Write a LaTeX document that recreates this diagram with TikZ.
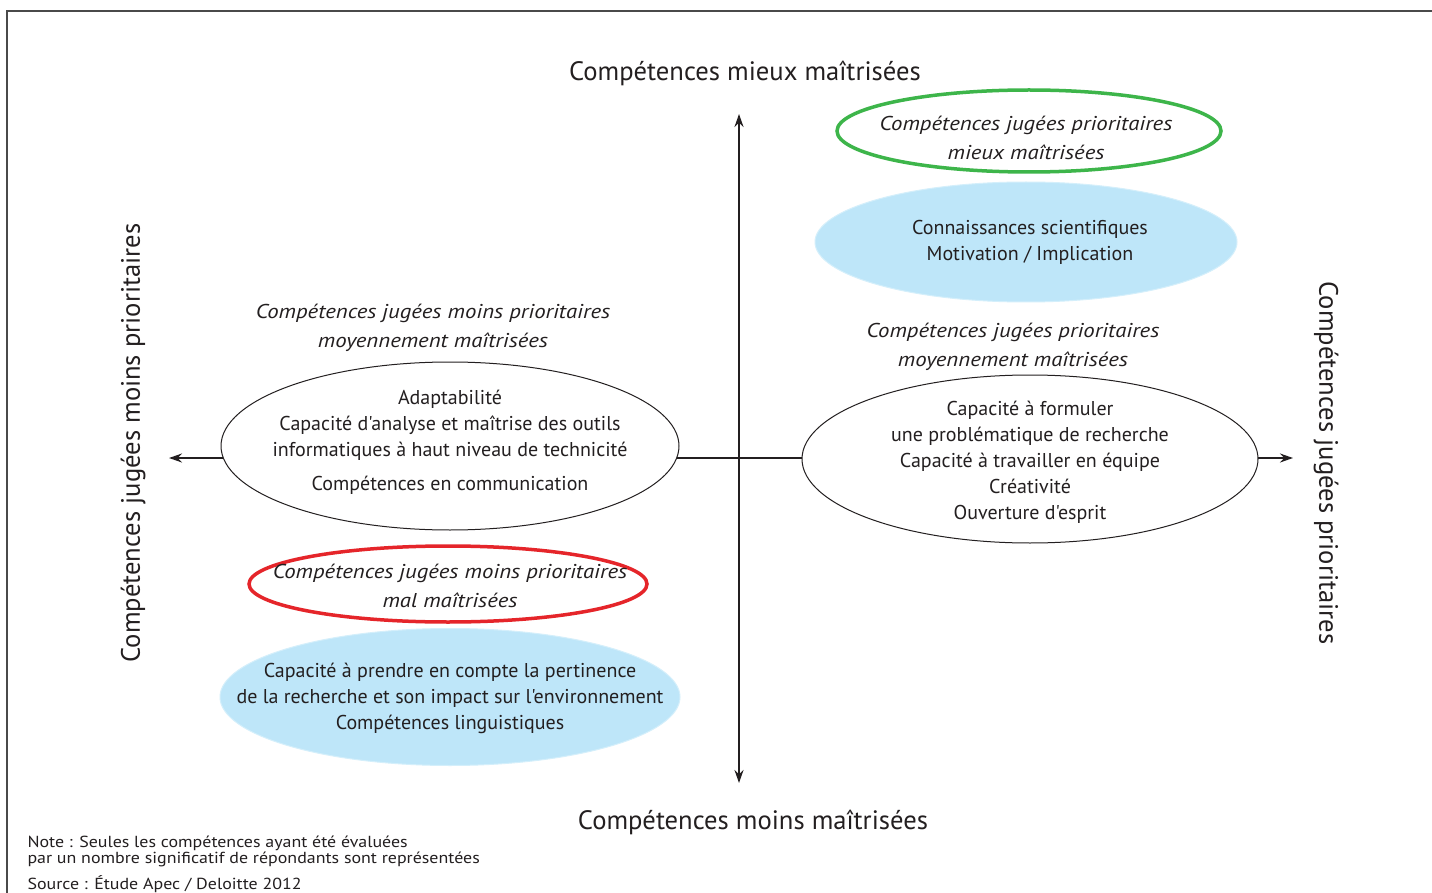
\documentclass[tikz,border=0pt]{standalone}
\usepackage{fontspec}
\setmainfont{PT Sans}[Ligatures=TeXOff, ItalicFeatures={FakeStretch=1.14}]
\newfontfamily\notefont{PT Sans}[Ligatures=TeXOff, FakeStretch=1.12]
\usetikzlibrary{arrows.meta,shapes.geometric}
\definecolor{skyfill}{HTML}{BEE6F9}
\definecolor{skyedge}{HTML}{D4EFFB}
\definecolor{ringgreen}{HTML}{3DB54A}
\definecolor{ringred}{HTML}{E5252A}
\definecolor{framegray}{HTML}{4A4A4A}
\definecolor{ink}{HTML}{231F20}
\tikzset{
  body/.style={font=\fontsize{20}{26}\selectfont, text=ink, align=center},
  ital/.style={font=\fontsize{20}{29}\selectfont\itshape, text=ink, align=center},
  title/.style={font=\fontsize{26.6}{30}\selectfont, text=ink},
  oval/.style={ellipse, inner sep=0pt},
  whiteoval/.style={oval, draw=ink, line width=1pt, fill=white},
  blueoval/.style={oval, draw=skyedge, line width=1pt, fill=skyfill},
  greenring/.style={oval, draw=ringgreen, line width=3.5pt, fill=white},
  redring/.style={oval, draw=ringred, line width=3.5pt, fill=white},
  axis/.style={draw=ink, line width=2pt, -{Stealth[length=13pt,width=9pt]}},
  note/.style={font=\notefont\fontsize{16}{16}\selectfont, text=ink, align=left, anchor=west},
}
\begin{document}
\begin{tikzpicture}[x=1pt,y=-1pt]
\useasboundingbox (0,0) rectangle (1432,893);
\fill[white] (0,0) rectangle (1432,893);
\draw[framegray, line width=2pt] (7,893) -- (7,11) -- (1432,11);

% axes
\coordinate (vtop) at (739,114);
\coordinate (vbot) at (739,783);
\coordinate (vmid) at (739,458);
\coordinate (hleft) at (169,458);
\coordinate (hright) at (1293,458);
\draw[axis] (vmid) -- (vtop);
\draw[axis] (vmid) -- (vbot);
\draw[axis] (vmid) -- (hleft);
\draw[axis] (vmid) -- (hright);

% axis titles
\node[title] (ttop) at (745,73) {Compétences mieux maîtrisées};
\node[title] (tbot) at (753,822) {Compétences moins maîtrisées};
\node[title, rotate=90] (tleft) at (133,443) {Compétences jugées moins prioritaires};
\node[title, rotate=-90] (tright) at (1326,463) {Compétences jugées prioritaires};

% top right
\node[greenring, minimum width=384pt, minimum height=82pt] (green) at (1029,131) {};
\node[ital] (greent) at (1026,138) {Compétences jugées prioritaires\\mieux maîtrisées};
\node[blueoval, minimum width=422pt, minimum height=120pt] (bluetr) at (1026,242) {};
\node[body] (bluetrt) at (1030,242) {Connaissances scientifiques\\Motivation / Implication};

% right middle
\node[ital] (rlab) at (1013,347) {Compétences jugées prioritaires\\moyennement maîtrisées};
\node[whiteoval, minimum width=456pt, minimum height=168pt] (rov) at (1030,459) {};
\node[body] (rovt) at (1030,462) {Capacité à formuler\\une problématique de recherche\\Capacité à travailler en équipe\\Créativité\\Ouverture d'esprit};

% left middle
\node[ital] (llab) at (433,328) {Compétences jugées moins prioritaires\\moyennement maîtrisées};
\node[whiteoval, minimum width=458pt, minimum height=168pt] (lov) at (450,446) {};
\node[body] (lovt) at (450,442) {Adaptabilité\\Capacité d'analyse et maîtrise des outils\\informatiques à haut niveau de technicité\\[8pt]Compétences en communication};

% bottom left
\node[redring, minimum width=398pt, minimum height=76pt] (red) at (448,584) {};
\node[ital] (redt) at (450,586) {Compétences jugées moins prioritaires\\mal maîtrisées};
\node[blueoval, minimum width=460pt, minimum height=137pt] (bluebl) at (450,697) {};
\node[body] (bluebit) at (450,698) {Capacité à prendre en compte la pertinence\\de la recherche et son impact sur l'environnement\\Compétences linguistiques};

% notes
\node[note] (note) at (24,851) {Note : Seules les compétences ayant été évaluées\\par un nombre significatif de répondants sont représentées};
\node[note] (src) at (24,884) {Source : Étude Apec / Deloitte 2012};
\end{tikzpicture}
\end{document}
